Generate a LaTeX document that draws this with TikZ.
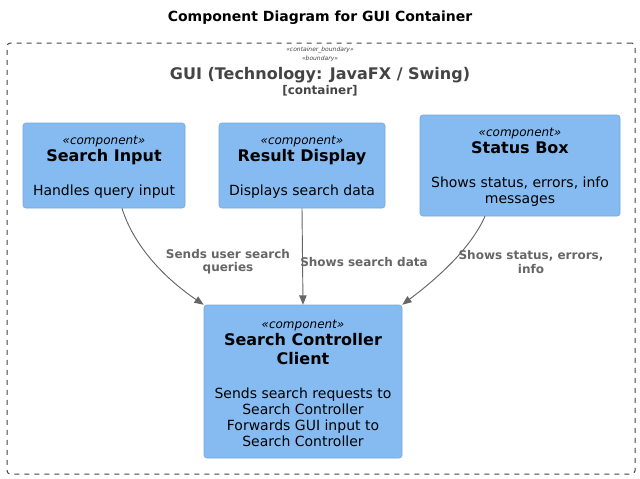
\documentclass[tikz,border=0pt]{standalone}
\usepackage{fontspec}
\setmainfont{DejaVu Sans}
\usetikzlibrary{arrows.meta,calc}
\definecolor{compfill}{HTML}{85BBF0}
\definecolor{compline}{HTML}{78A8D8}
\definecolor{linkgray}{HTML}{666666}
\definecolor{bndgray}{HTML}{444444}
\newcommand{\stereo}[1]{{\fontsize{9}{11}\selectfont\itshape\rule{0pt}{9.5pt}«#1»}}
\newcommand{\cname}[1]{{\fontsize{12}{14}\selectfont\bfseries #1}}

\begin{document}
\begin{tikzpicture}[x=0.75pt,y=-0.75pt]
\tikzstyle{comp}=[rectangle,draw=compline,fill=compfill,rounded corners=2pt,align=center,inner sep=0pt,font=\fontsize{10.5}{12}\selectfont]
 \tikzstyle{plate}=[rectangle,draw=bndgray,dash pattern=on 3.75pt off 3.75pt,rounded corners=2.5pt,inner sep=0pt,line width=0.75pt]
 \tikzstyle{link}=[->,>={Triangle[length=7pt,width=5.5pt]},draw=linkgray,line width=0.7pt]
 \tikzstyle{lbl}=[text=linkgray,font=\fontsize{9}{10}\selectfont\bfseries,align=center]
 \useasboundingbox (0,0) rectangle (640,479);
 \node[font=\fontsize{10.5}{12}\selectfont\bfseries] (title) at (320,18) {Component Diagram for GUI Container};

 % container boundary
 \node[plate, minimum width=471pt, minimum height=323.25pt] (gui) at (321,258.5) {};
 \node[font=\fontsize{4.5}{5}\selectfont\itshape,text=bndgray,inner sep=0pt] (bnd1) at (320,50) {«container\_boundary»};
 \node[font=\fontsize{4.5}{5}\selectfont\itshape,text=bndgray,inner sep=0pt] (bnd2) at (320,59) {«boundary»};
 \node[font=\fontsize{12}{14}\selectfont\bfseries,text=bndgray,inner sep=0pt] (guiname) at (320,75) {GUI (Technology: JavaFX / Swing)};
 \node[font=\fontsize{9}{10}\selectfont\bfseries,text=bndgray,inner sep=0pt] (guitype) at (320,91) {[container]};

 \node[comp, minimum width=121.5pt, minimum height=63.75pt] (si) at (104,165.5)
  {\stereo{component}\\[0.75pt]\cname{Search Input}\\[13.5pt]Handles query input};
 \node[comp, minimum width=124.5pt, minimum height=63.75pt] (rd) at (302,165.5)
  {\stereo{component}\\[0.75pt]\cname{Result Display}\\[13.5pt]Displays search data};
 \node[comp, minimum width=150pt, minimum height=75.75pt] (sb) at (520,165.5)
  {\stereo{component}\\[0.75pt]\cname{Status Box}\\[13.5pt]Shows status, errors, info\\messages};
 \node[comp, minimum width=148.5pt, minimum height=114.75pt] (sc) at (303,381.5)
  {\stereo{component}\\[0.75pt]\cname{Search Controller}\\[2pt]\cname{Client}\\[13.5pt]Sends search requests to\\Search Controller\\Forwards GUI input to\\Search Controller};

 \draw [link] ($(si.south)+(18,0)$) .. controls (135,250) and (170,282) .. (sc.north west);
 \draw [link] (rd.south) -- (sc.north);
 \draw [link] ($(sb.south)+(-35,0)$) .. controls (470,250) and (435,280) .. (sc.north east);

 \node[lbl] (l1) at (228,262) {Sends user search\\queries};
 \node[lbl] (l2) at (364,262) {Shows search data};
 \node[lbl] (l3) at (531,262) {Shows status, errors,\\info};

\end{tikzpicture}
\end{document}
